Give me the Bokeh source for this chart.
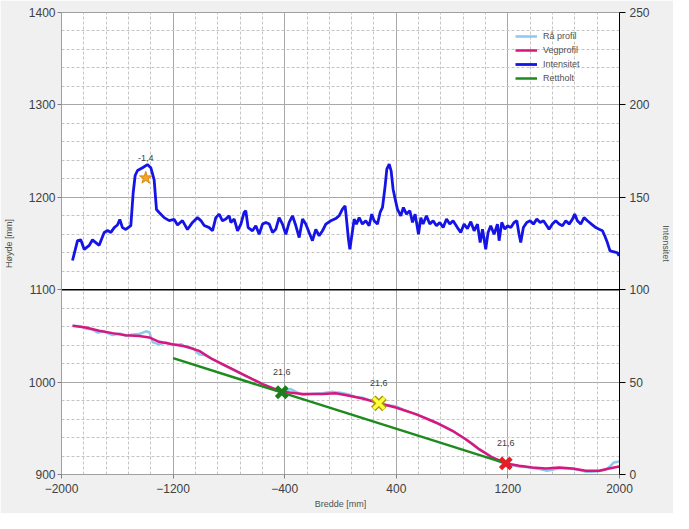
import numpy as np
from bokeh.plotting import figure
from bokeh.models import (Range1d, LinearAxis, FixedTicker, Grid, Span,
                          Legend, LegendItem)
from bokeh.embed import file_html
from bokeh.resources import INLINE
from bokeh.core.properties import value

# ---------------- data ----------------
x_ticks = [-2000, -1200, -400, 400, 1200, 2000]
y_ticks = [900, 1000, 1100, 1200, 1300, 1400]
int_ticks = [0, 50, 100, 150, 200, 250]

veg_x = [-1921, -1826, -1730, -1634, -1539, -1443, -1371, -1300, -1204, -1109,
         -1013, -918, -846, -703, -559, -416, -272, -129, -34, 62, 158, 277,
         396, 540, 683, 803, 898, 994, 1089, 1185, 1281, 1376, 1472, 1568,
         1663, 1758, 1854, 1926, 1998]
veg_y = [1061, 1059, 1055.5, 1053, 1050.8, 1050, 1048.3, 1043.6, 1041, 1038.5,
         1033.8, 1024.8, 1019.5, 1008.6, 997.8, 989.5, 987, 987, 988, 985.2,
         982.3, 977.2, 972.5, 965.3, 956.3, 947.3, 938.2, 927.4, 918.4, 912.2,
         909.4, 907.6, 906.5, 907.6, 906.5, 904, 904, 906.5, 908.7]

raw_x = [-1921, -1870, -1826, -1780, -1740, -1700, -1634, -1580, -1539, -1490,
         -1443, -1395, -1371, -1345, -1300, -1250, -1204, -1140, -1109, -1060,
         -1013, -970, -918, -846, -780, -703, -630, -559, -490, -416, -357,
         -300, -272, -200, -129, -60, -34, 0, 62, 110, 158, 220, 277, 330, 396,
         460, 540, 610, 683, 740, 803, 850, 898, 950, 994, 1040, 1089, 1140,
         1185, 1230, 1281, 1330, 1376, 1430, 1480, 1520, 1568, 1610, 1663,
         1710, 1760, 1800, 1850, 1900, 1926, 1960, 1998]
raw_y = [1061, 1060.5, 1058, 1057, 1053.5, 1055, 1051, 1052.5, 1050, 1051.5,
         1052, 1055, 1054, 1043, 1041, 1043, 1040, 1041, 1038, 1037, 1030,
         1029, 1025, 1019, 1014, 1008, 1003, 998, 993, 990, 992.5, 988, 986,
         987.5, 988, 989.5, 989, 988.5, 986.5, 984, 983, 980, 976.5, 975, 974,
         969.5, 965, 961, 956, 952, 947, 942.5, 938, 933, 927, 923, 918, 914,
         911, 910, 908.5, 908, 907, 906, 904, 905, 907, 906.5, 906, 905, 903,
         903, 903.5, 905, 908, 913, 914]

int_x = [-1921, -1885, -1862, -1837, -1801, -1778, -1754, -1730, -1694, -1670,
         -1646, -1622, -1599, -1582, -1563, -1539, -1503, -1486, -1472, -1455,
         -1419, -1384, -1360, -1336, -1319, -1300, -1264, -1228, -1192, -1168,
         -1133, -1097, -1061, -1025, -1001, -977, -941, -917, -894, -870, -846,
         -822, -798, -786, -762, -738, -714, -691, -679, -662, -631, -607, -583,
         -559, -535, -511, -487, -464, -440, -416, -392, -368, -344, -320, -296,
         -272, -249, -225, -201, -177, -153, -129, -105, -69, -34, -10, 14, 33,
         43, 57, 67, 81, 98, 114, 134, 157, 181, 205, 224, 241, 265, 284, 301,
         320, 332, 349, 363, 377, 392, 408, 432, 451, 473, 497, 516, 535, 559,
         576, 592, 616, 640, 664, 688, 712, 736, 760, 783, 807, 838, 862, 886,
         910, 934, 958, 982, 1001, 1018, 1041, 1058, 1077, 1101, 1125, 1137,
         1156, 1178, 1197, 1221, 1244, 1264, 1280, 1292, 1311, 1335, 1359, 1383,
         1407, 1431, 1455, 1479, 1495, 1519, 1543, 1567, 1591, 1615, 1639, 1663,
         1679, 1698, 1722, 1746, 1770, 1799, 1830, 1854, 1878, 1894, 1913, 1932,
         1961, 1985, 1997]
int_y = [115.8, 126.6, 127, 121.8, 124, 127, 125.5, 124, 131, 132,
         131, 133.6, 135, 138, 133.6, 132.6, 134.7, 152.6, 161.8, 164.5,
         166, 167.7, 166, 159.6, 143.4, 141.8, 139, 137.4, 138, 135,
         137.4, 132.6, 136.4, 139, 137.4, 134.7, 133.6, 131.9, 139, 140.9, 137.3,
         138.2, 140, 136.4, 138.2, 131.9, 135.5, 141.8, 142.7, 133.6, 131.9, 134.6, 130,
         135.5, 136.4, 135.5, 131, 132.7, 139, 135.5, 130, 136.4, 140, 134.6, 128.2,
         138.2, 135.5, 131, 126.5, 132.7, 129.2, 131.9, 135.5, 137.3, 138.5, 140, 143.6, 145.4,
         138.2, 127.3, 121.9, 129.2, 138.2, 135.5, 139, 135.5, 137.3, 134.6, 140.9, 137.3, 135.5, 141.8, 144.5,
         156.2, 165.2, 167.9, 164.3, 154.4, 149, 143.6, 140, 144.5, 140.9, 142.7, 136.4, 140.9, 130,
         139, 135.5, 140, 135.5, 137.3, 134.6, 136.4, 133.6, 138.2, 135.5, 137.3, 133.6, 131, 135.5,
         133, 136.8, 131.9, 135.5, 125.5, 132.7, 121.9, 131, 134.6, 130, 135.5, 126.5,
         136.4, 132.7, 134.6, 133.6, 136.4, 137.3, 130, 125.5, 133.6, 136.4, 137.3, 135.5,
         138.2, 136.4, 137.3, 134.6, 132.7, 135.5, 137.3, 135.5, 134.6, 137.3, 135.5, 138.2,
         140.9, 137.3, 135.5, 139, 137.3, 135.5, 133.6, 132.7, 131.9, 129.2, 125.5, 121,
         120.5, 120, 118.3]

ret_x = [-1200, 1185]
ret_y = [1026, 912]

star_x = [-1396]
star_y = [1221]
gx, gy = [-421], [989]
yx, yy = [275], [977]
rx, ry = [1185], [912]
lab_x = [-1396, -421, 275, 1185]
lab_y = [1221, 989, 977, 912]
lab_text = ["-1,4", "21,6", "21,6", "21,6"]

# ---------------- figure ----------------
FONT = "Liberation Sans"
p = figure(width=673, height=513, output_backend="svg", toolbar_location=None,
           x_range=Range1d(-2000, 2000), y_range=Range1d(900, 1400),
           min_border_left=61, min_border_right=54, min_border_top=12,
           min_border_bottom=39, background_fill_color="white",
           border_fill_color="#F0F0F0")
p.extra_y_ranges = {"int": Range1d(0, 250)}
p.outline_line_color = "#A0A0A0"

p.xaxis.ticker = FixedTicker(ticks=x_ticks)
p.yaxis.ticker = FixedTicker(ticks=y_ticks)

rax = LinearAxis(y_range_name="int", ticker=FixedTicker(ticks=int_ticks))
p.add_layout(rax, "right")

for ax in (p.xaxis[0], p.yaxis[0], rax):
    ax.minor_tick_line_color = None
    ax.major_tick_in = 0
    ax.major_tick_out = 4
    ax.major_label_text_font = FONT
    ax.major_label_text_font_size = "12px"
    ax.major_label_text_color = "#404040"
    ax.axis_label_text_font = FONT
    ax.axis_label_text_font_size = "9px"
    ax.axis_label_text_font_style = "normal"
    ax.axis_label_text_color = "#505050"
for ax in (p.xaxis[0], p.yaxis[0]):
    ax.axis_line_color = "#A0A0A0"
    ax.major_tick_line_color = "#808080"
rax.axis_line_color = "black"
rax.major_tick_line_color = "black"
rax.major_tick_out = 6

p.yaxis.major_label_standoff = 2
p.yaxis.axis_label = "Høyde [mm]"
p.yaxis.axis_label_standoff = 12
p.xaxis.major_label_standoff = 5
p.xaxis.axis_label = "Bredde [mm]"
p.xaxis.axis_label_standoff = 3
rax.major_label_standoff = 4
rax.axis_label = "Intensitet"
rax.axis_label_standoff = 8

p.xgrid.grid_line_color = "#A8A8A8"
p.ygrid.grid_line_color = "#A8A8A8"

minor_x = [float(v) for v in np.arange(-1840, 2000, 160) if (v + 400) % 800 != 0]
minor_y = [float(v) for v in np.arange(920, 1400, 20) if v % 100 != 0]
p.add_layout(Grid(dimension=0, ticker=FixedTicker(ticks=minor_x),
                  grid_line_color="#C4C4C4", grid_line_dash="3 2"))
p.add_layout(Grid(dimension=1, ticker=FixedTicker(ticks=minor_y),
                  grid_line_color="#C4C4C4", grid_line_dash="3 2"))
p.add_layout(Span(location=1100, dimension="width", line_color="black",
                  line_width=1.5, level="underlay"))

# ---------------- series ----------------
raw = p.line(raw_x, raw_y, line_color="#8EC8EE", line_width=2.5)
veg = p.line(veg_x, veg_y, line_color="#D8177E", line_width=2.5)
inten = p.line(int_x, int_y, line_color="#1414E6", line_width=2.8, y_range_name="int")
ret = p.line(ret_x, ret_y, line_color="#1E8A1E", line_width=2.5)

p.scatter(gx, gy, marker="x", size=15, line_color="#1E7D1E", line_width=4.5)
p.scatter(yx, yy, marker="x", size=16, line_color="#A89A00", line_width=6.5)
p.scatter(yx, yy, marker="x", size=15, line_color="#FFFF3A", line_width=3.5)
p.scatter(rx, ry, marker="x", size=15, line_color="#E41E26", line_width=4.5)
p.scatter(star_x, star_y, marker="star", size=13, fill_color="#F2A42C",
          line_color="#E08A00")

p.text(lab_x, lab_y, text=lab_text, y_offset=-20, text_align="center",
       text_baseline="middle", text_font=value(FONT), text_font_size="9px",
       text_color="#404040")

legend = Legend(items=[LegendItem(label="Rå profil", renderers=[raw]),
                       LegendItem(label="Vegprofil", renderers=[veg]),
                       LegendItem(label="Intensitet", renderers=[inten]),
                       LegendItem(label="Rettholt", renderers=[ret])],
                location=(454, 389), orientation="vertical",
                border_line_color=None, background_fill_alpha=0,
                padding=0, margin=0, spacing=0, glyph_width=22,
                glyph_height=14, label_height=14, label_standoff=6,
                label_text_font=FONT, label_text_font_size="9px",
                label_text_color="#505050")
p.add_layout(legend)

open("out.html", "w").write(file_html(p, INLINE))
